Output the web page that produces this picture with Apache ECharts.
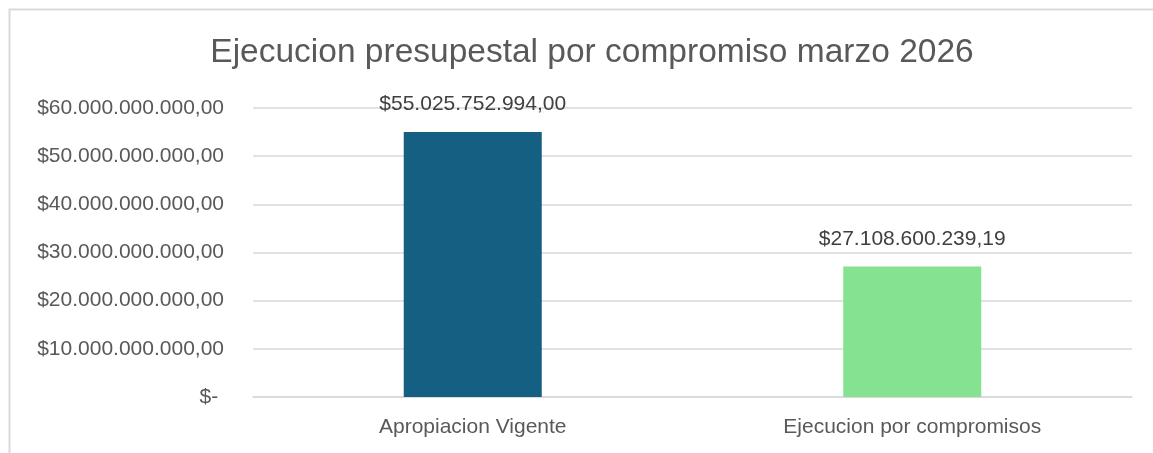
<!DOCTYPE html>
<html>
<head>
<meta charset="utf-8">
<script src="https://cdn.jsdelivr.net/npm/echarts@6/dist/echarts.min.js"></script>
<style>
html, body { margin: 0; padding: 0; background: #fff; }
#chart { width: 1153px; height: 453px; }
</style>
</head>
<body>
<div id="chart"></div>
<script>
const categories = ['Apropiacion Vigente', 'Ejecucion por compromisos'];
const values = [55025752994.00, 27108600239.19];
const barColors = ['#155F82', '#84E291'];
const yTicks = [0, 10000000000, 20000000000, 30000000000, 40000000000, 50000000000, 60000000000];

function money(v, decimals) {
    if (v === 0) return '$- ';
    const parts = v.toFixed(decimals).split('.');
    const intPart = parts[0].replace(/\B(?=(\d{3})+(?!\d))/g, '.');
    return '$' + intPart + ',' + parts[1];
}

const chart = echarts.init(document.getElementById('chart'));

const option = {
    animation: false,
    textStyle: { fontFamily: 'Liberation Sans' },
    title: {
        text: 'Ejecucion presupestal por compromiso marzo 2026',
        left: 587,
        textAlign: 'center',
        top: 31,
        textStyle: { fontSize: 33.5, fontWeight: 'normal', color: '#595959', fontFamily: 'Liberation Sans' }
    },
    graphic: [{
        type: 'rect',
        shape: { x: 9.5, y: 9.5, width: 1200, height: 500 },
        style: { fill: 'none', stroke: '#d9d9d9', lineWidth: 2 },
        silent: true
    }],
    grid: { left: 253, right: 21, top: 108, bottom: 56 },
    xAxis: {
        type: 'category',
        data: categories,
        axisTick: { show: false },
        axisLine: { lineStyle: { color: '#d9d9d9', width: 1.5 } },
        axisLabel: { color: '#595959', fontSize: 21, margin: 20 }
    },
    yAxis: {
        type: 'value',
        min: yTicks[0],
        max: yTicks[yTicks.length - 1],
        interval: yTicks[1] - yTicks[0],
        axisLine: { show: false },
        axisTick: { show: false },
        splitLine: { lineStyle: { color: '#d9d9d9', width: 1.5 } },
        axisLabel: {
            color: '#595959',
            fontSize: 21,
            margin: 29,
            formatter: function (v) { return money(v, 2); }
        }
    },
    series: [{
        type: 'bar',
        barWidth: '31.4%',
        data: values.map(function (v, i) {
            return { value: v, itemStyle: { color: barColors[i] } };
        }),
        label: {
            show: true,
            position: 'top',
            distance: 17,
            color: '#404040',
            fontSize: 21,
            formatter: function (p) { return money(p.value, 2); }
        }
    }]
};

chart.setOption(option);
</script>
</body>
</html>
